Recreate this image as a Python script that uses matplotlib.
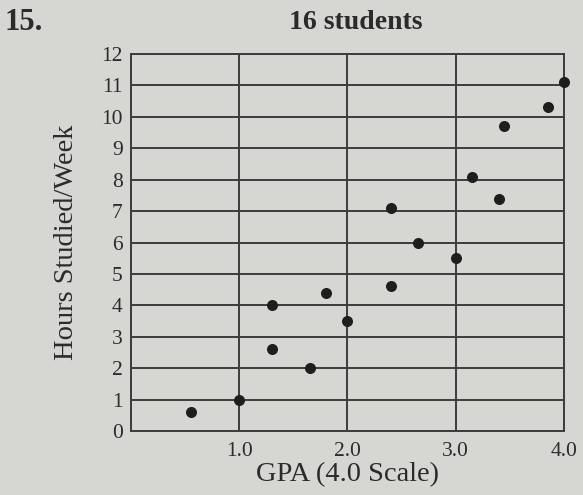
import matplotlib
matplotlib.use("Agg")
import matplotlib.pyplot as plt
import numpy as np

# data
gpa = [0.55, 1.0, 1.3, 1.3, 1.65, 1.8, 2.0, 2.4,
       2.4, 2.65, 3.0, 3.15, 3.4, 3.45, 3.85, 4.0]
hours = [0.6, 1.0, 4.0, 2.6, 2.0, 4.4, 3.5, 4.6,
         7.1, 6.0, 5.5, 8.1, 7.4, 9.7, 10.3, 11.1]

x_ticks = [0, 1, 2, 3, 4]
x_tick_labels = ["", "1.0", "2.0", "3.0", "4.0"]
y_ticks = list(range(0, 13))

PAPER = "#d6d6d2"
INK = "#2b2b2b"
GRID = "#3c3c3c"

plt.rcParams['font.family'] = ['Liberation Serif', 'DejaVu Serif']

fig = plt.figure(figsize=(5.83, 4.95), dpi=100, facecolor=PAPER)
ax = fig.add_axes([0.2247, 0.1293, 0.7427, 0.7616], facecolor=PAPER)

ax.scatter(gpa, hours, s=48, color="#1e1e1e", zorder=3, clip_on=False)

ax.set_xlim(0, 4)
ax.set_ylim(0, 12)
ax.set_xticks(x_ticks)
ax.set_xticklabels(x_tick_labels)
ax.set_yticks(y_ticks)
ax.grid(True, color=GRID, linewidth=1.4)
ax.set_axisbelow(True)
for sp in ax.spines.values():
    sp.set_color(GRID)
    sp.set_linewidth(1.4)

ax.tick_params(axis='both', length=0, labelsize=15.5, colors=INK)
ax.tick_params(axis='y', pad=6)
ax.tick_params(axis='x', pad=8)

ax.set_xlabel("GPA (4.0 Scale)", fontsize=20.5, color=INK, labelpad=1)
ax.set_ylabel("Hours Studied/Week", fontsize=20.5, color=INK, labelpad=16)

fig.text(0.61, 0.955, "16 students", fontsize=20, fontweight='bold',
         color=INK, ha='center', va='center')
fig.text(0.008, 0.955, "15.", fontsize=22, fontweight='bold',
         color=INK, ha='left', va='center')

fig.savefig("out.png", dpi=100, facecolor=PAPER)
